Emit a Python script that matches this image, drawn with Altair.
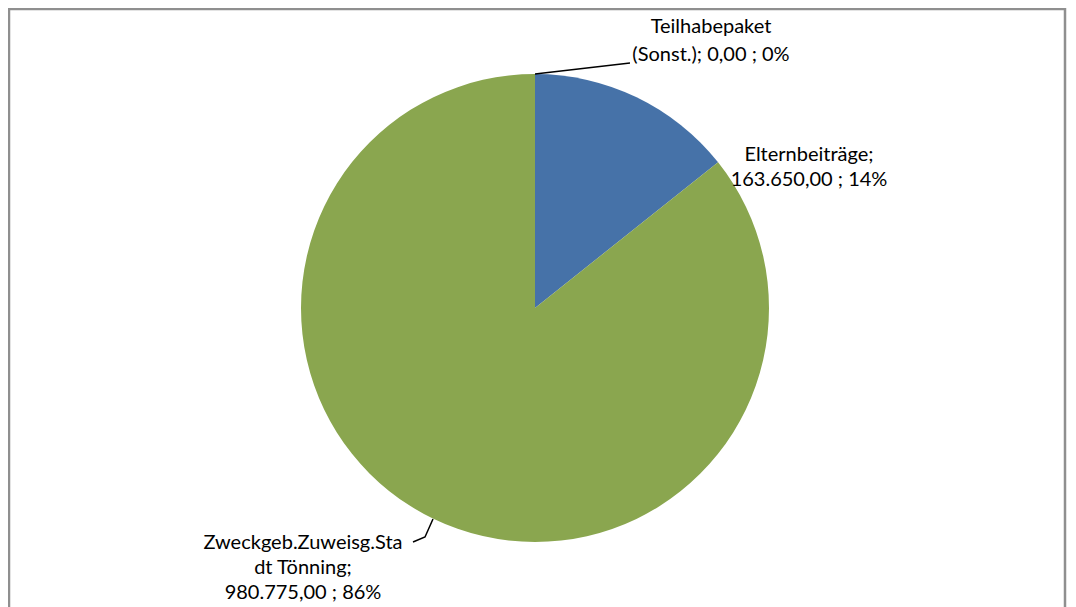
import altair as alt
import pandas as pd

# ---- data ----
categories = ["Teilhabepaket (Sonst.)", "Elternbeiträge", "Zweckgeb.Zuweisg.Stadt Tönning"]
values = [0.0, 163650.0, 980775.0]
slice_colors = ["#8AA64F", "#4672A8", "#8AA64F"]

# label text lines (as shown in the chart, category names wrapped)
label_name_lines = [["Teilhabepaket", "(Sonst.); "], ["Elternbeiträge;", ""], ["Zweckgeb.Zuweisg.Sta", "dt Tönning;", ""]]

# ---- layout (pixels in chart coordinates) ----
W, H = 1060, 599
CX, CY, R = 527, 300, 234
label_anchor = [(703, 19, 28), (801, 147, 25), (295, 535, 25)]  # center x, first-line y, line step
leader_pts = [
    [(527, 66), (622, 55)],
    [],
    [(425, 511), (417, 529), (405, 534)],
]

def de_num(v):
    s = f"{v:,.2f}"
    return s.replace(",", "X").replace(".", ",").replace("X", ".")

total = sum(values)
pie_df = pd.DataFrame({"category": categories, "value": values, "order": list(range(len(values)))})

text_rows = []
for i, (lines, v) in enumerate(zip(label_name_lines, values)):
    pct = f"{round(v / total * 100):.0f}%"
    tail = f"{de_num(v)} ; {pct}"
    full = list(lines)
    full[-1] = full[-1] + tail
    cx, y0, step = label_anchor[i]
    for j, t in enumerate(full):
        text_rows.append({"text": t, "x": cx, "y": y0 + j * step})
text_df = pd.DataFrame(text_rows)

line_rows = []
for i, pts in enumerate(leader_pts):
    for k, (x, y) in enumerate(pts):
        line_rows.append({"g": i, "k": k, "x": x, "y": y})
line_df = pd.DataFrame(line_rows)

frame = alt.Chart(pd.DataFrame({"a": [0]})).mark_rect(
    filled=False, stroke="#8F8F8F", strokeWidth=2.5
).encode(x=alt.value(1), x2=alt.value(1057), y=alt.value(1), y2=alt.value(640))

pie = alt.Chart(pie_df).mark_arc(radius=R).encode(
    theta=alt.Theta("value:Q", stack=True),
    color=alt.Color("category:N", scale=alt.Scale(domain=categories, range=slice_colors), legend=None),
    order=alt.Order("order:Q"),
    x=alt.value(CX),
    y=alt.value(CY),
)

leaders = alt.Chart(line_df).mark_line(color="black", strokeWidth=1.5).encode(
    x=alt.X("x:Q", scale=None, axis=None),
    y=alt.Y("y:Q", scale=None, axis=None),
    detail="g:N",
    order="k:Q",
)

labels = alt.Chart(text_df).mark_text(
    font="Lato", fontSize=20, color="black", align="center", baseline="middle"
).encode(
    x=alt.X("x:Q", scale=None, axis=None),
    y=alt.Y("y:Q", scale=None, axis=None),
    text="text:N",
)

chart = alt.layer(frame, pie, leaders, labels).properties(
    width=W, height=H, padding=0, autosize=alt.AutoSizeParams(type="none")
).configure_view(stroke=None)

chart.save("out.html", embed_options={"renderer": "svg", "actions": False})
